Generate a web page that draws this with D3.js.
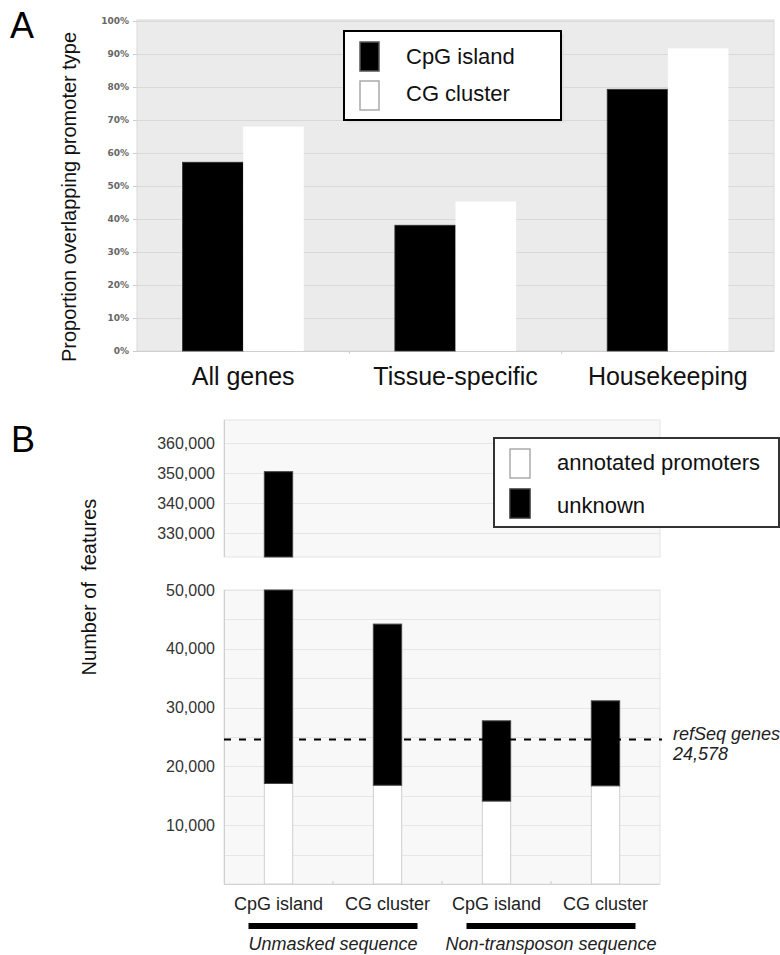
<!DOCTYPE html>
<html>
<head>
<meta charset="utf-8">
<script src="https://cdn.jsdelivr.net/npm/d3@7"></script>
<style>
  body { margin: 0; background: #fff; }
  svg { display: block; font-family: "Liberation Sans", Arial, sans-serif; }
</style>
</head>
<body>
<div id="chart"></div>
<script>
// ---- panel A data
var catsA = ["All genes", "Tissue-specific", "Housekeeping"];
var seriesA = ["CpG island", "CG cluster"];
var cpgIsland = [0.572, 0.381, 0.793];
var cgCluster = [0.68, 0.453, 0.917];
var ticksA = [0, 0.1, 0.2, 0.3, 0.4, 0.5, 0.6, 0.7, 0.8, 0.9, 1.0];

// ---- panel B data
var barsB = ["CpG island", "CG cluster", "CpG island", "CG cluster"];
var annotated = [17100, 16800, 14100, 16700];
var unknown = [333400, 27400, 13650, 14450];
var groupsB = ["Unmasked sequence", "Non-transposon sequence"];
var groupMembers = [[0, 1], [2, 3]];
var refSeqGenes = 24578;
var ticksLower = [10000, 20000, 30000, 40000, 50000];
var gridLower = [5000, 10000, 15000, 20000, 25000, 30000, 35000, 40000, 45000, 50000];
var ticksUpper = [330000, 340000, 350000, 360000];

var width = 780, height = 955;
var svg = d3.select("#chart").append("svg")
    .attr("width", width)
    .attr("height", height);

// ================= panel A =================
var a = {left: 137, right: 774, top: 20, bottom: 351};

var xA = d3.scaleBand()
    .domain(catsA)
    .range([a.left, a.right])
    .paddingInner(0.429)
    .paddingOuter(0.2145);

var xInner = d3.scaleBand()
    .domain(seriesA)
    .range([0, xA.bandwidth()]);

var yA = d3.scaleLinear()
    .domain([0, 1])
    .range([a.bottom, a.top + 1]);

var gA = svg.append("g");

gA.append("rect")
    .attr("x", a.left).attr("y", a.top)
    .attr("width", a.right - a.left).attr("height", a.bottom - a.top)
    .style("fill", "#ebebeb")
    .style("stroke", "#dadada");

gA.append("g").selectAll("line")
    .data(ticksA.slice(1))
    .enter().append("line")
    .attr("x1", a.left).attr("x2", a.right)
    .attr("y1", d => Math.round(yA(d)) + 0.5)
    .attr("y2", d => Math.round(yA(d)) + 0.5)
    .style("stroke", "#d9d9d9");

// y axis
var axisA = d3.axisLeft(yA)
    .tickValues(ticksA)
    .tickFormat(d3.format(".0%"))
    .tickSize(4)
    .tickPadding(4);

gA.append("g")
    .attr("transform", `translate(${a.left}, 0)`)
    .call(axisA)
    .call(g => g.select(".domain").remove())
    .call(g => g.selectAll("line").style("stroke", "#ccc"))
    .call(g => g.selectAll("text")
        .style("font-family", "DejaVu Sans, Verdana, sans-serif")
        .style("font-size", "9px")
        .style("font-weight", "bold")
        .style("fill", "#666"));

// baseline
gA.append("line")
    .attr("x1", a.left).attr("x2", a.right)
    .attr("y1", a.bottom + 0.5).attr("y2", a.bottom + 0.5)
    .style("stroke", "#cfcfcf");

// little ticks between categories
gA.append("g").selectAll("line")
    .data(catsA.slice(1))
    .enter().append("line")
    .attr("x1", d => xA(d) - xA.step() * xA.paddingInner() / 2)
    .attr("x2", d => xA(d) - xA.step() * xA.paddingInner() / 2)
    .attr("y1", a.bottom).attr("y2", a.bottom + 3)
    .style("stroke", "#ccc");

// bars
var barDataA = [];
catsA.forEach(function(c, i) {
    barDataA.push({cat: c, s: seriesA[0], v: cpgIsland[i]});
    barDataA.push({cat: c, s: seriesA[1], v: cgCluster[i]});
});

gA.append("g").selectAll("rect")
    .data(barDataA)
    .enter().append("rect")
    .attr("x", d => xA(d.cat) + xInner(d.s))
    .attr("y", d => yA(d.v))
    .attr("width", xInner.bandwidth())
    .attr("height", d => a.bottom - yA(d.v))
    .style("fill", d => d.s == seriesA[0] ? "#000" : "#fff")
    .style("stroke", d => d.s == seriesA[0] ? "#333" : "none")
    .style("stroke-width", 0.8);

// category labels
gA.append("g").selectAll("text")
    .data(catsA)
    .enter().append("text")
    .attr("x", d => xA(d) + xA.bandwidth() / 2)
    .attr("y", 385)
    .attr("text-anchor", "middle")
    .style("font-size", "25px")
    .style("fill", "#111")
    .text(d => d);

// y title
gA.append("text")
    .attr("transform", "translate(76,197) rotate(-90)")
    .attr("text-anchor", "middle")
    .style("font-size", "20px")
    .style("fill", "#111")
    .text("Proportion overlapping promoter type");

// legend A
var legA = gA.append("g");
legA.append("rect")
    .attr("x", 347).attr("y", 34).attr("width", 217).attr("height", 89)
    .style("fill", "#ddd").style("opacity", 0.6);
legA.append("rect")
    .attr("x", 344).attr("y", 31).attr("width", 217).attr("height", 89)
    .style("fill", "#fff").style("stroke", "#000").style("stroke-width", 2);
seriesA.forEach(function(s, i) {
    legA.append("rect")
        .attr("x", 360).attr("y", 42 + i * 39).attr("width", 19).attr("height", 29)
        .style("fill", i == 0 ? "#000" : "#fff")
        .style("stroke", i == 0 ? "#555" : "#aaa")
        .style("stroke-width", 1.5);
    legA.append("text")
        .attr("x", 406).attr("y", 64 + i * 37)
        .style("font-size", "22px")
        .style("fill", "#111")
        .text(s);
});

svg.append("text")
    .attr("x", 10).attr("y", 38)
    .style("font-size", "36px")
    .text("A");

// ================= panel B =================
var up = {left: 224, right: 660, top: 420, bottom: 557};
var lo = {left: 224, right: 660, top: 590, bottom: 884};

var xB = d3.scaleBand()
    .domain(d3.range(barsB.length))
    .range([lo.left, lo.right])
    .paddingInner(0.74)
    .paddingOuter(0.37);

var yLo = d3.scaleLinear().domain([0, 50000]).range([lo.bottom, lo.top]);
var yUp = d3.scaleLinear().domain([322100, 367700]).range([up.bottom, up.top]);

var gB = svg.append("g");

[up, lo].forEach(function(p) {
    gB.append("rect")
        .attr("x", p.left).attr("y", p.top)
        .attr("width", p.right - p.left).attr("height", p.bottom - p.top)
        .style("fill", "#f8f8f8")
        .style("stroke", "#e4e4e4");
});

gB.append("g").selectAll("line")
    .data(gridLower)
    .enter().append("line")
    .attr("x1", lo.left).attr("x2", lo.right)
    .attr("y1", d => Math.round(yLo(d)) + 0.5)
    .attr("y2", d => Math.round(yLo(d)) + 0.5)
    .style("stroke", "#e6e6e6");

gB.append("g").selectAll("line")
    .data(ticksUpper)
    .enter().append("line")
    .attr("x1", up.left).attr("x2", up.right)
    .attr("y1", d => Math.round(yUp(d)) + 0.5)
    .attr("y2", d => Math.round(yUp(d)) + 0.5)
    .style("stroke", "#e6e6e6");

// left borders
[up, lo].forEach(function(p) {
    gB.append("line")
        .attr("x1", p.left + 0.5).attr("x2", p.left + 0.5)
        .attr("y1", p.top).attr("y2", p.bottom)
        .style("stroke", "#cfcfcf");
});
gB.append("line")
    .attr("x1", lo.left).attr("x2", lo.right)
    .attr("y1", lo.bottom + 0.5).attr("y2", lo.bottom + 0.5)
    .style("stroke", "#d4d4d4");

gB.append("g").selectAll("line")
    .data(d3.range(1, barsB.length))
    .enter().append("line")
    .attr("x1", d => xB(d) - xB.step() * xB.paddingInner() / 2)
    .attr("x2", d => xB(d) - xB.step() * xB.paddingInner() / 2)
    .attr("y1", lo.bottom - 3).attr("y2", lo.bottom)
    .style("stroke", "#ccc");

function styleAxisB(g) {
    g.select(".domain").remove();
    g.selectAll("text")
        .style("font-family", "Liberation Sans, Arial, sans-serif")
        .style("font-size", "16px")
        .style("fill", "#333");
}

gB.append("g")
    .attr("transform", `translate(${lo.left}, 0)`)
    .call(d3.axisLeft(yLo).tickValues(ticksLower).tickFormat(d3.format(",")).tickSize(0).tickPadding(9))
    .call(styleAxisB);

gB.append("g")
    .attr("transform", `translate(${up.left}, 0)`)
    .call(d3.axisLeft(yUp).tickValues(ticksUpper).tickFormat(d3.format(",")).tickSize(0).tickPadding(9))
    .call(styleAxisB);

// stacked bars
var rowsB = barsB.map((b, i) => ({i: i, annotated: annotated[i], unknown: unknown[i]}));
var stackB = d3.stack().keys(["annotated", "unknown"])(rowsB);

var loMax = yLo.domain()[1], upMin = yUp.domain()[0];

stackB.forEach(function(layer) {
    var fill = layer.key == "annotated" ? "#fff" : "#000";
    var stroke = layer.key == "annotated" ? "#cfcfcf" : "#444";
    layer.forEach(function(seg) {
        var y0 = seg[0], y1 = seg[1], i = seg.data.i;
        if (y0 < loMax) {
            var top = yLo(Math.min(y1, loMax));
            gB.append("rect")
                .attr("x", xB(i)).attr("y", top)
                .attr("width", xB.bandwidth())
                .attr("height", yLo(y0) - top)
                .style("fill", fill).style("stroke", stroke).style("stroke-width", 1);
        }
        if (y1 > upMin) {
            var bot = yUp(Math.max(y0, upMin));
            gB.append("rect")
                .attr("x", xB(i)).attr("y", yUp(y1))
                .attr("width", xB.bandwidth())
                .attr("height", bot - yUp(y1))
                .style("fill", fill).style("stroke", stroke).style("stroke-width", 1);
        }
    });
});

// refSeq line
gB.append("line")
    .attr("x1", lo.left).attr("x2", lo.right + 2)
    .attr("y1", yLo(refSeqGenes)).attr("y2", yLo(refSeqGenes))
    .style("stroke", "#000")
    .style("stroke-width", 2)
    .style("stroke-dasharray", "7,8");

var refLbl = gB.append("text")
    .attr("x", 673).attr("y", yLo(refSeqGenes) + 1)
    .style("font-size", "18px")
    .style("font-style", "italic")
    .style("fill", "#222");
refLbl.append("tspan").attr("x", 673).text("refSeq genes");
refLbl.append("tspan").attr("x", 673).attr("dy", 20).text(d3.format(",")(refSeqGenes));

// bar labels
gB.append("g").selectAll("text")
    .data(barsB)
    .enter().append("text")
    .attr("x", (d, i) => xB(i) + xB.bandwidth() / 2)
    .attr("y", 910)
    .attr("text-anchor", "middle")
    .style("font-size", "18px")
    .style("fill", "#222")
    .text(d => d);

// group bars and labels
groupsB.forEach(function(g, k) {
    var m = groupMembers[k];
    var x0 = xB(m[0]) + xB.bandwidth() / 2 - 30;
    var x1 = xB(m[m.length - 1]) + xB.bandwidth() / 2 + 30;
    gB.append("rect")
        .attr("x", x0).attr("y", 923)
        .attr("width", x1 - x0).attr("height", 6)
        .style("fill", "#000");
    gB.append("text")
        .attr("x", (x0 + x1) / 2).attr("y", 950)
        .attr("text-anchor", "middle")
        .style("font-size", "18px")
        .style("font-style", "italic")
        .style("fill", "#222")
        .text(g);
});

// y title
gB.append("text")
    .attr("transform", "translate(96,587) rotate(-90)")
    .attr("text-anchor", "middle")
    .style("font-size", "20px")
    .style("fill", "#111")
    .style("white-space", "pre")
    .text("Number of  features");

// legend B
var legB = gB.append("g");
legB.append("rect")
    .attr("x", 494).attr("y", 438).attr("width", 285).attr("height", 89)
    .style("fill", "#fff").style("stroke", "#333").style("stroke-width", 2);
var legKeys = ["annotated promoters", "unknown"];
legKeys.forEach(function(k, i) {
    legB.append("rect")
        .attr("x", 510).attr("y", 449 + i * 40).attr("width", 20).attr("height", 29)
        .style("fill", i == 0 ? "#fff" : "#000")
        .style("stroke", i == 0 ? "#aaa" : "#333")
        .style("stroke-width", 1.5);
    legB.append("text")
        .attr("x", 557).attr("y", 470 + i * 43)
        .style("font-size", "22px")
        .style("fill", "#111")
        .text(k);
});

svg.append("text")
    .attr("x", 11).attr("y", 452)
    .style("font-size", "36px")
    .text("B");
</script>
</body>
</html>
